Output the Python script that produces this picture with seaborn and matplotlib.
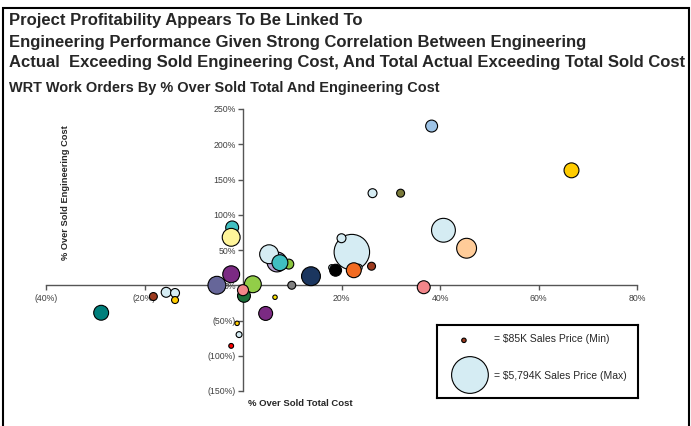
import numpy as np
import pandas as pd
import matplotlib
matplotlib.use("Agg")
import matplotlib.pyplot as plt
import seaborn as sns
from matplotlib.patches import Rectangle

# 数据：% Over Sold Total Cost (x), % Over Sold Engineering Cost (y), Sales Price $K (气泡大小)
# 列表顺序即绘制顺序（后面的在上层）
over_total = [22.1, 20.0, 18.0, 18.8, 23.5, 22.5, 26.1,
              9.3, 6.9, 5.3, 7.5,
              38.3, 66.7, 26.3, 32.0, 40.7, 45.4, 36.7, 13.8, 9.9,
              -2.2, -2.4, -5.3, -2.4, 2.0, 0.2, 0.0, 6.5, 4.6, -1.2, -0.8, -2.4,
              -18.2, -15.6, -13.8, -13.8, -28.8]
over_eng = [47.0, 66.7, 25.0, 21.3, 25.0, 21.3, 27.0,
            30.0, 33.0, 44.0, 32.0,
            225.8, 163.0, 130.6, 130.6, 78.0, 52.5, -2.8, 12.8, 0.0,
            82.0, 68.0, 0.0, 15.6, 1.4, -15.0, -7.0, -17.0, -40.0, -54.0, -70.0, -86.0,
            -16.0, -10.0, -11.0, -21.0, -39.0]
sales_k = [5400, 343, 152, 610, 200, 952, 271,
           423, 1693, 1528, 1083,
           610, 952, 343, 271, 2438, 1693, 715, 1528, 271,
           715, 1371, 1371, 1223, 1223, 715, 520, 85, 830, 85, 150, 100,
           271, 423, 343, 207, 952]
colors = ["#D5ECF3", "#D5ECF3", "#D5ECF3", "#000000", "#D5ECF3", "#F26B21", "#9C3A1E",
          "#8CC63F", "#B4A2D2", "#D5ECF3", "#40BFC1",
          "#9DC3E6", "#FFCC00", "#D5ECF3", "#7A7A3A", "#D5ECF3", "#FFCC99", "#F2868A",
          "#1B365F", "#808080",
          "#40BFC1", "#FFF59A", "#666699", "#7B2A83", "#92CD48", "#1A6E38", "#F2868A",
          "#FFE600", "#7B2A83", "#FFCC00", "#D5ECF3", "#FF0000",
          "#9C3A1E", "#D5ECF3", "#D5ECF3", "#FFCC00", "#007F7B"]
x_ticks = [-40, -20, 20, 40, 60, 80]
y_ticks = [-150, -100, -50, 0, 50, 100, 150, 200, 250]
legend_sales = [85, 5794]
legend_labels = ["= $85K Sales Price (Min)", "= $5,794K Sales Price (Max)"]
legend_colors = ["#9C3A1E", "#D5ECF3"]

sns.set_theme(style="white")
plt.rcParams['font.family'] = ['Liberation Sans', 'DejaVu Sans']

df = pd.DataFrame({'x': over_total, 'y': over_eng, 'sales': sales_k,
                   'id': [str(i) for i in range(len(over_total))]})
palette = {str(i): c for i, c in enumerate(colors)}
size_norm = (0, 5794)
size_range = (0, 700)

fig = plt.figure(figsize=(6.91, 4.26), dpi=100)
ax = fig.add_axes([46/691, 1-391/426, 591/691, 282/426])

sns.scatterplot(data=df, x='x', y='y', hue='id', palette=palette, size='sales',
                sizes=size_range, size_norm=size_norm, edgecolor='black',
                linewidth=0.8, legend=False, ax=ax, zorder=3, alpha=1)

ax.set_xlim(-40, 80)
ax.set_ylim(-150, 250)
ax.spines['left'].set_position(('data', 0))
ax.spines['bottom'].set_position(('data', 0))
ax.spines['top'].set_visible(False)
ax.spines['right'].set_visible(False)
for s in ['left', 'bottom']:
    ax.spines[s].set_color('#555555')
    ax.spines[s].set_linewidth(1.0)
ax.set_xticks(x_ticks)
ax.set_yticks(y_ticks)
fmt = lambda v: f"({abs(int(v))}%)" if v < 0 else f"{int(v)}%"
ax.set_xticklabels([fmt(v) for v in x_ticks])
ax.set_yticklabels([fmt(v) for v in y_ticks])
ax.tick_params(axis='both', which='major', direction='out', length=3.5, width=1,
               color='#555555', labelsize=6.3, labelcolor='#404040',
               bottom=True, left=True)
ax.tick_params(axis='x', pad=2.5)
ax.tick_params(axis='y', pad=1.5)
ax.set_xlabel('')
ax.set_ylabel('')
ax.patch.set_alpha(0)

fig.text(300/691, 1-404/426, '% Over Sold Total Cost', fontsize=6.8, fontweight='bold',
         ha='center', va='center')
fig.text(66/691, 1-193/426, '% Over Sold Engineering Cost', fontsize=6.7, fontweight='bold',
         ha='center', va='center', rotation=90)

title_fs = 12
fig.text(9/691, 1-20/426, 'Project Profitability Appears To Be Linked To',
         fontsize=title_fs, fontweight='bold', ha='left', va='center')
fig.text(9/691, 1-42/426, 'Engineering Performance Given Strong Correlation Between Engineering',
         fontsize=title_fs, fontweight='bold', ha='left', va='center')
fig.text(9/691, 1-63/426, 'Actual  Exceeding Sold Engineering Cost, And Total Actual Exceeding Total Sold Cost',
         fontsize=title_fs, fontweight='bold', ha='left', va='center')
fig.text(9/691, 1-88/426, 'WRT Work Orders By % Over Sold Total And Engineering Cost',
         fontsize=10.45, fontweight='bold', ha='left', va='center')

# 外框
fig.patches.append(Rectangle((3/691, -0.05), 686/691, 1.05 - 8/426, transform=fig.transFigure,
                             fill=False, edgecolor='black', linewidth=1.5))

# 图例框
lax = fig.add_axes([437/691, 1-398/426, 201/691, 73/426])
leg_df = pd.DataFrame({'x': [0.134, 0.164], 'y': [0.79, 0.315], 'sales': legend_sales,
                       'id': ['a', 'b']})
sns.scatterplot(data=leg_df, x='x', y='y', hue='id', palette={'a': legend_colors[0], 'b': legend_colors[1]},
                size='sales', sizes=size_range, size_norm=size_norm, edgecolor='black',
                linewidth=0.8, legend=False, ax=lax, alpha=1)
lax.set_xlim(0, 1)
lax.set_ylim(0, 1)
lax.set_xticks([])
lax.set_yticks([])
lax.set_xlabel('')
lax.set_ylabel('')
for s in lax.spines.values():
    s.set_visible(True)
    s.set_color('black')
    s.set_linewidth(1.5)
lax.text(0.284, 0.81, legend_labels[0], fontsize=7.5, va='center', ha='left')
lax.text(0.284, 0.30, legend_labels[1], fontsize=7.5, va='center', ha='left')

fig.savefig('out.png', dpi=100)
